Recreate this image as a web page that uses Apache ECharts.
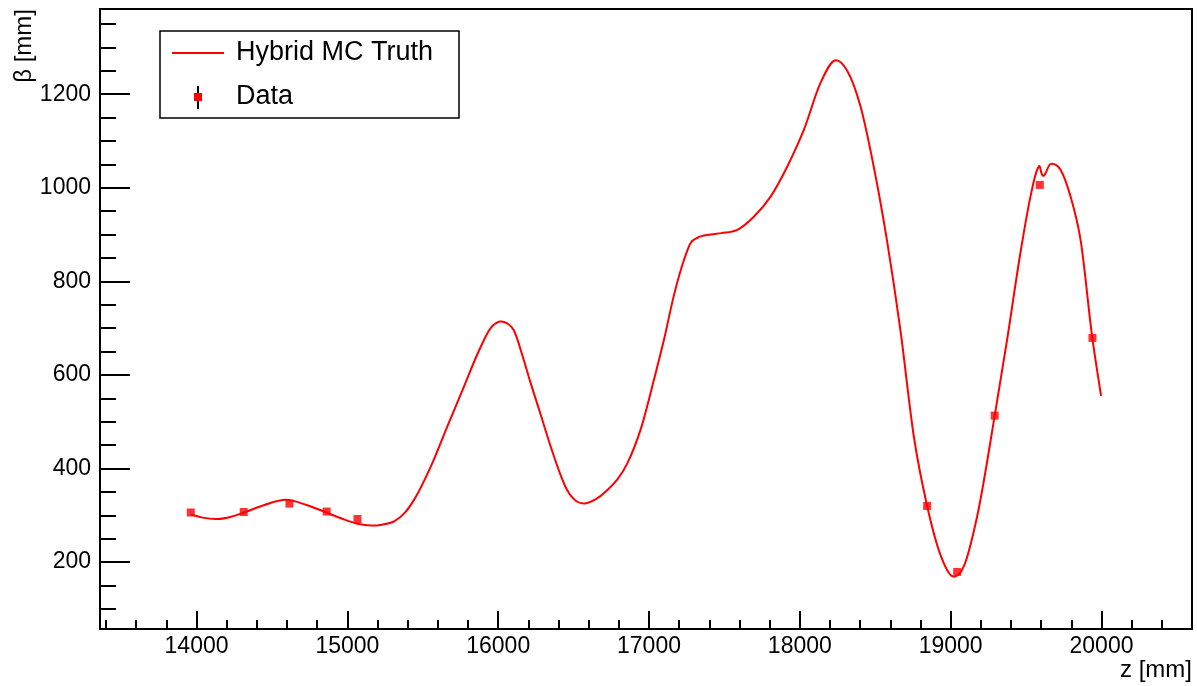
<!DOCTYPE html>
<html>
<head>
<meta charset="utf-8">
<script src="https://cdn.jsdelivr.net/npm/echarts@6/dist/echarts.min.js"></script>
<style>
html,body{margin:0;padding:0;background:#fff;}
#c{width:1197px;height:686px;}
</style>
</head>
<body>
<div id="c"></div>
<script>
// ---- data ----
var truthZ = [13960,14040,14139,14230,14315,14450,14592,14730,14868,14970,15067,15155,15230,15310,15380,15442,15553,15663,15773,15870,15950,16012,16060,16103,16162,16215,16282,16348,16414,16455,16500,16569,16640,16724,16856,16944,17033,17099,17165,17231,17276,17320,17407,17480,17585,17695,17806,17916,18027,18137,18232,18314,18402,18490,18579,18667,18755,18844,18933,19010,19087,19175,19292,19374,19462,19529,19573,19591,19600,19663,19729,19795,19861,19938,19997];
var truthBeta = [302,295,292,297,306,322,333,322,305,292,282,278,280,287,305,333,404,490,575,650,700,714,710,696,640,583,515,447,386,355,335,325,333,354,411,483,590,675,770,845,882,893,900,903,910,938,981,1045,1124,1224,1272,1250,1174,1045,885,695,470,320,215,170,191,297,513,675,860,981,1038,1045,1033,1051,1038,981,889,682,555];
var dataZ = [13962,14313,14616,14863,15067,18844,19043,19292,19591,19940];
var dataBeta = [306,307,325,308,292,320,179,513,1006,679];
var xMajorTicks = [14000,15000,16000,17000,18000,19000,20000];
var xMinorTicks = [13400,13600,13800,14200,14400,14600,14800,15200,15400,15600,15800,16200,16400,16600,16800,17200,17400,17600,17800,18200,18400,18600,18800,19200,19400,19600,19800,20200,20400];
var yMajorTicks = [200,400,600,800,1000,1200];
var yMinorTicks = [100,150,250,300,350,450,500,550,650,700,750,850,900,950,1050,1100,1150,1250,1300,1350];
var xRange = [13360, 20600];
var yRange = [57, 1382];

var FONT = 'Liberation Sans, Arial, Helvetica, sans-serif';
var truth = truthZ.map(function(z,i){return [z, truthBeta[i]];});
var pts = dataZ.map(function(z,i){return [z, dataBeta[i]];});
function plain(v){ return String(v); }

// smooth cubic Hermite path through the series points, positioned by the chart's own scales
function renderTruth(params, api){
  if (params.dataIndex !== 0) return null;
  var p = [];
  for (var i = 0; i < truth.length; i++) {
    p.push(api.coord([api.value(0, i), api.value(1, i)]));
  }
  var s = [], m = [];
  for (var i = 0; i < p.length - 1; i++) s.push((p[i+1][1] - p[i][1]) / (p[i+1][0] - p[i][0]));
  for (var i = 0; i < p.length; i++) {
    if (i === 0) m.push(s[0]);
    else if (i === p.length - 1) m.push(s[s.length - 1]);
    else {
      var h0 = p[i][0] - p[i-1][0], h1 = p[i+1][0] - p[i][0];
      m.push((h1 * s[i-1] + h0 * s[i]) / (h0 + h1));
    }
  }
  var d = 'M' + p[0][0] + ' ' + p[0][1];
  for (var i = 0; i < p.length - 1; i++) {
    var h = p[i+1][0] - p[i][0];
    d += ' C' + (p[i][0] + h/3) + ' ' + (p[i][1] + m[i]*h/3) + ' ' +
         (p[i+1][0] - h/3) + ' ' + (p[i+1][1] - m[i+1]*h/3) + ' ' +
         p[i+1][0] + ' ' + p[i+1][1];
  }
  return {type:'path', shape:{pathData:d}, style:{fill:null, stroke:'#ff0000', lineWidth:2}};
}

var chart = echarts.init(document.getElementById('c'), null, {renderer:'canvas'});
var axisBase = {type:'value', splitLine:{show:false}};
chart.setOption({
  animation:false,
  backgroundColor:'#fff',
  grid:{left:100, right:5, top:9, bottom:57, show:true, borderColor:'#000', borderWidth:2, backgroundColor:'transparent'},
  xAxis:[
    Object.assign({}, axisBase, {min:xRange[0], max:xRange[1], position:'bottom',
      axisLine:{show:true, onZero:false, lineStyle:{color:'#000', width:2}},
      axisTick:{show:true, inside:true, length:18, customValues:xMajorTicks, lineStyle:{color:'#000', width:2}},
      axisLabel:{show:true, customValues:xMajorTicks, formatter:plain, margin:6, color:'#000', fontSize:23, fontFamily:FONT}}),
    Object.assign({}, axisBase, {min:xRange[0], max:xRange[1], position:'bottom',
      axisLine:{show:false, onZero:false},
      axisTick:{show:true, inside:true, length:9, customValues:xMinorTicks, lineStyle:{color:'#000', width:2}},
      axisLabel:{show:false}})
  ],
  yAxis:[
    Object.assign({}, axisBase, {min:yRange[0], max:yRange[1], position:'left',
      axisLine:{show:true, onZero:false, lineStyle:{color:'#000', width:2}},
      axisTick:{show:true, inside:true, length:30, customValues:yMajorTicks, lineStyle:{color:'#000', width:2}},
      axisLabel:{show:true, customValues:yMajorTicks, formatter:plain, margin:9, color:'#000', fontSize:23, fontFamily:FONT}}),
    Object.assign({}, axisBase, {min:yRange[0], max:yRange[1], position:'left',
      axisLine:{show:false, onZero:false},
      axisTick:{show:true, inside:true, length:16, customValues:yMinorTicks, lineStyle:{color:'#000', width:2}},
      axisLabel:{show:false}})
  ],
  series:[
    {name:'Hybrid MC Truth', type:'custom', xAxisIndex:0, yAxisIndex:0, data:truth,
     encode:{x:0, y:1}, renderItem:renderTruth, itemStyle:{color:'#ff0000'}, z:2, clip:false},
    {name:'Data', type:'scatter', xAxisIndex:0, yAxisIndex:0, data:pts, symbol:'rect', symbolSize:8,
     itemStyle:{color:'#ff0000'}, z:3}
  ],
  graphic:[
    {type:'rect', shape:{x:160, y:31, width:299, height:87}, style:{fill:'#fff', stroke:'#000', lineWidth:1.5}, z:10},
    {type:'line', shape:{x1:172, y1:53, x2:224, y2:53}, style:{stroke:'#ff0000', lineWidth:2}, z:11},
    {type:'text', x:236, y:53, style:{text:'Hybrid MC Truth', fill:'#000', font:'27px ' + FONT, textAlign:'left', textVerticalAlign:'middle'}, z:11},
    {type:'line', shape:{x1:198, y1:86, x2:198, y2:109}, style:{stroke:'#000', lineWidth:2}, z:11},
    {type:'rect', shape:{x:194, y:93, width:8, height:8}, style:{fill:'#ff0000'}, z:12},
    {type:'text', x:236, y:97, style:{text:'Data', fill:'#000', font:'27px ' + FONT, textAlign:'left', textVerticalAlign:'middle'}, z:11},
    {type:'text', x:1192, y:670, style:{text:'z [mm]', fill:'#000', font:'24px ' + FONT, textAlign:'right', textVerticalAlign:'middle'}, z:11},
    {type:'text', x:24, y:9, rotation:Math.PI/2, style:{text:'β [mm]', fill:'#000', font:'24px ' + FONT, textAlign:'right', textVerticalAlign:'middle'}, z:11}
  ]
});
</script>
</body>
</html>
